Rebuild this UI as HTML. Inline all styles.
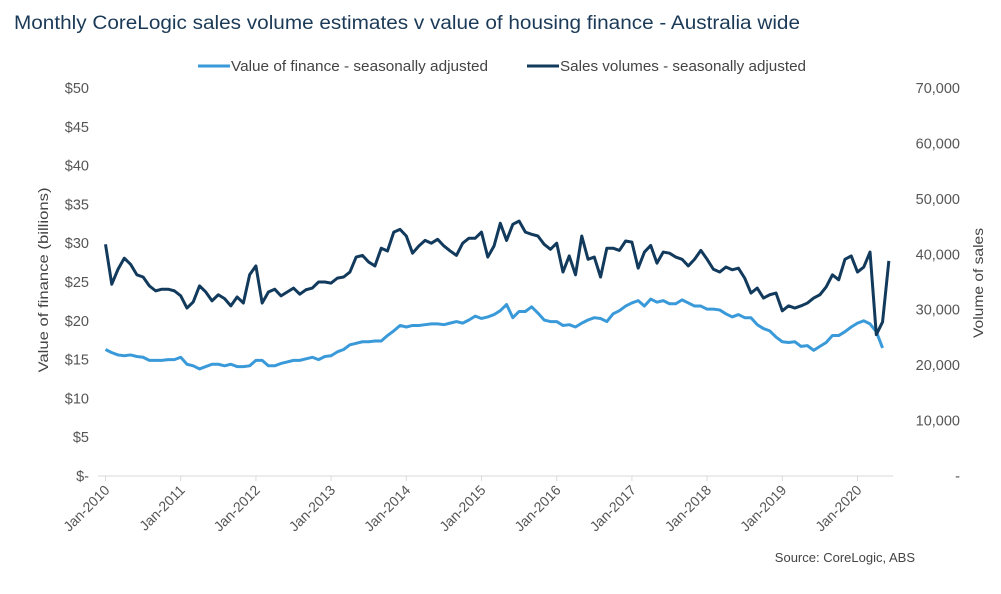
<!DOCTYPE html>
<html><head><meta charset="utf-8"><style>
body{margin:0;background:#fff;font-family:"Liberation Sans",sans-serif;}
svg text{font-family:"Liberation Sans",sans-serif;}
</style></head><body>
<svg id="chart" width="1001" height="589" viewBox="0 0 1001 589" xmlns="http://www.w3.org/2000/svg">
<text x="14" y="29" font-size="19" textLength="786" lengthAdjust="spacingAndGlyphs" fill="#1b3a57">Monthly CoreLogic sales volume estimates v value of housing finance - Australia wide</text>
<g>
<line x1="198" y1="66" x2="230" y2="66" stroke="#3a9ad9" stroke-width="3"/>
<text x="231" y="71" font-size="14.5" textLength="257" lengthAdjust="spacingAndGlyphs" fill="#444">Value of finance - seasonally adjusted</text>
<line x1="527" y1="66" x2="559" y2="66" stroke="#123a5c" stroke-width="3"/>
<text x="560" y="71" font-size="14.5" textLength="246" lengthAdjust="spacingAndGlyphs" fill="#444">Sales volumes - seasonally adjusted</text>
</g>
<text transform="translate(48,280) rotate(-90)" text-anchor="middle" font-size="14" textLength="185" lengthAdjust="spacingAndGlyphs" fill="#444">Value of finance (billions)</text>
<text transform="translate(983,283) rotate(-90)" text-anchor="middle" font-size="14" textLength="110" lengthAdjust="spacingAndGlyphs" fill="#444">Volume of sales</text>
<text x="915" y="562" text-anchor="end" font-size="13" fill="#444">Source: CoreLogic, ABS</text>
<g id="axes"></g>
<g id="series"></g>
</svg>
<script>
const leftTicks=[0,5,10,15,20,25,30,35,40,45,50];
const leftTickLabels=["$-","$5","$10","$15","$20","$25","$30","$35","$40","$45","$50"];
const rightTicks=[0,10000,20000,30000,40000,50000,60000,70000];
const rightTickLabels=["-","10,000","20,000","30,000","40,000","50,000","60,000","70,000"];
const xTickLabels=["Jan-2010","Jan-2011","Jan-2012","Jan-2013","Jan-2014","Jan-2015","Jan-2016","Jan-2017","Jan-2018","Jan-2019","Jan-2020"];
const financeValues=[16.3,15.9,15.6,15.5,15.6,15.4,15.3,14.9,14.9,14.9,15.0,15.0,15.3,14.4,14.2,13.8,14.1,14.4,14.4,14.2,14.4,14.1,14.1,14.2,14.9,14.9,14.2,14.2,14.5,14.7,14.9,14.9,15.1,15.3,15.0,15.4,15.5,16.0,16.3,16.9,17.1,17.3,17.3,17.4,17.4,18.1,18.7,19.4,19.2,19.4,19.4,19.5,19.6,19.6,19.5,19.7,19.9,19.7,20.1,20.6,20.3,20.5,20.8,21.3,22.1,20.4,21.2,21.2,21.8,21.0,20.1,19.9,19.9,19.4,19.5,19.2,19.7,20.1,20.4,20.3,19.9,20.9,21.3,21.9,22.3,22.6,21.9,22.8,22.4,22.6,22.2,22.2,22.7,22.3,21.9,21.9,21.5,21.5,21.4,20.9,20.5,20.8,20.4,20.4,19.5,19.0,18.7,17.9,17.3,17.2,17.3,16.7,16.8,16.2,16.7,17.2,18.1,18.1,18.6,19.2,19.7,20.0,19.6,18.6,16.5];
const salesValues=[41800,34600,37300,39300,38200,36300,35900,34300,33400,33700,33700,33400,32500,30300,31400,34300,33200,31600,32700,32000,30700,32300,31200,36300,37900,31200,33200,33700,32500,33200,33900,32800,33600,33900,35000,35000,34800,35700,35900,36800,39500,39800,38600,37900,41100,40600,44000,44500,43300,40200,41500,42500,42000,42700,41500,40600,39800,42000,42900,42900,44000,39500,41500,45600,42500,45400,46000,44000,43600,43300,41800,40900,42000,36800,39700,36300,43300,39100,39500,35900,41100,41100,40700,42400,42200,37500,40400,41600,38400,40400,40200,39500,39100,37900,39100,40700,39100,37300,36800,37700,37200,37500,35700,33000,33900,32100,32700,33000,29800,30700,30300,30700,31200,32100,32700,34100,36300,35400,39100,39700,36800,37700,40400,25500,27800,38800];

const X0=105.5, PX_MONTH=75.2/12, Y0=476, YTOP=88;
const xm=i=>X0+i*PX_MONTH;
const yL=v=>Y0-(v/50)*(Y0-YTOP);
const yR=v=>Y0-(v/70000)*(Y0-YTOP);
const NS="http://www.w3.org/2000/svg";
const axes=document.getElementById('axes'), series=document.getElementById('series');
function mk(tag,attrs,parent,txt){const e=document.createElementNS(NS,tag);for(const k in attrs)e.setAttribute(k,attrs[k]);if(txt!==undefined)e.textContent=txt;parent.appendChild(e);return e;}

const base=mk('line',{x1:98,y1:Y0,x2:893,y2:Y0,stroke:'#d9d9d9','stroke-width':1},axes);



leftTicks.forEach((v,i)=>{
  const t=mk('text',{x:89,y:yL(v)+5,'text-anchor':'end','font-size':14.5,fill:'#555'},axes,leftTickLabels[i]);
  
  
});
rightTicks.forEach((v,i)=>{
  const t=mk('text',{x:960,y:yR(v)+5,'text-anchor':'end','font-size':14.5,fill:'#555'},axes,rightTickLabels[i]);
  
  
});
xTickLabels.forEach((lab,i)=>{
  const x=xm(i*12);
  const tk=mk('line',{x1:x,y1:Y0,x2:x,y2:Y0+5,stroke:'#d9d9d9'},axes);
  
  
  const t=mk('text',{transform:`translate(${x+5},${Y0+15}) rotate(-45)`,'text-anchor':'end','font-size':14,fill:'#555'},axes,lab);
  
  
});
const pf=mk('polyline',{points:financeValues.map((v,i)=>xm(i)+','+yL(v)).join(' '),fill:'none',stroke:'#3a9ad9','stroke-width':3,'stroke-linejoin':'round'},series);


const ps=mk('polyline',{points:salesValues.map((v,i)=>xm(i)+','+yR(v)).join(' '),fill:'none',stroke:'#123a5c','stroke-width':3,'stroke-linejoin':'round'},series);


</script>
</body></html>
